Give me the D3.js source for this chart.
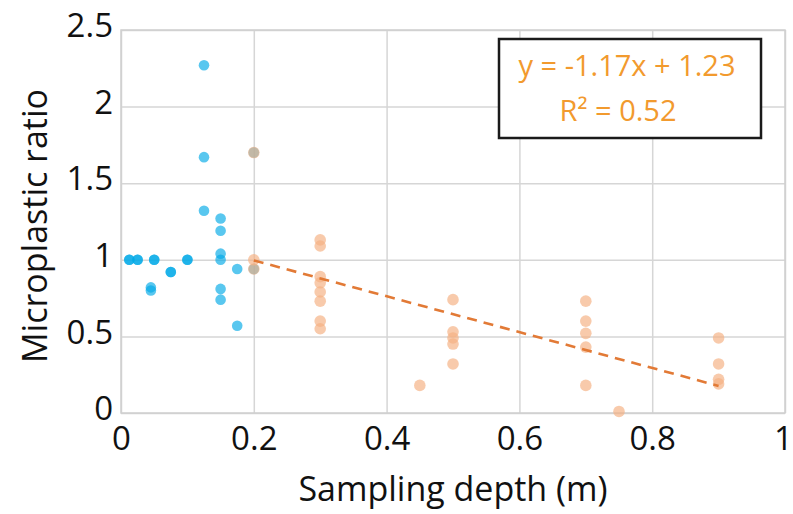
<!DOCTYPE html>
<html>
<head>
<meta charset="utf-8">
<script src="https://cdn.jsdelivr.net/npm/d3@7/dist/d3.min.js"></script>
<style>
  html, body { margin: 0; padding: 0; background: #fff; }
  svg { display: block; }
</style>
</head>
<body>
<svg id="chart" width="793" height="514"></svg>
<script>
// ---- data ----
const xTicks = [0, 0.2, 0.4, 0.6, 0.8, 1];
const yTicks = [0, 0.5, 1, 1.5, 2, 2.5];

const blueX = [0.0125, 0.0125, 0.025, 0.025, 0.05, 0.05, 0.045, 0.045, 0.075, 0.075, 0.1, 0.1,
               0.125, 0.125, 0.125, 0.15, 0.15, 0.15, 0.15, 0.15, 0.15, 0.175, 0.175, 0.2, 0.2];
const blueY = [1.0, 1.0, 1.0, 1.0, 1.0, 1.0, 0.82, 0.80, 0.92, 0.92, 1.0, 1.0,
               2.27, 1.67, 1.32, 1.27, 1.19, 1.04, 1.0, 0.81, 0.74, 0.94, 0.57, 1.7, 0.94];

const orangeX = [0.2, 0.2, 0.2,
                 0.3, 0.3, 0.3, 0.3, 0.3, 0.3, 0.3, 0.3,
                 0.45,
                 0.5, 0.5, 0.5, 0.5, 0.5,
                 0.7, 0.7, 0.7, 0.7, 0.7,
                 0.75,
                 0.9, 0.9, 0.9, 0.9];
const orangeY = [1.7, 1.0, 0.94,
                 1.13, 1.09, 0.89, 0.85, 0.79, 0.73, 0.60, 0.55,
                 0.18,
                 0.74, 0.53, 0.49, 0.45, 0.32,
                 0.73, 0.60, 0.52, 0.43, 0.18,
                 0.01,
                 0.49, 0.32, 0.22, 0.19];

const slope = -1.17, intercept = 1.23;
const trendRange = [0.2, 0.9];
const eqText = "y = -1.17x + 1.23";
const r2Text = "R² = 0.52";

// ---- layout ----
const svg = d3.select("#chart");
const L = 121, R = 785, T = 30, B = 413;
const x = d3.scaleLinear().domain([0, 1]).range([L, R]);
const y = d3.scaleLinear().domain([0, 2.5]).range([B, T]);
const font = "'Open Sans', sans-serif";
const ink = "#111";

// gridlines
svg.append("g").attr("transform", `translate(0,${B})`)
  .call(d3.axisBottom(x).tickValues(xTicks).tickSize(-(B - T)).tickFormat(""))
  .call(g => g.select(".domain").remove())
  .call(g => g.selectAll("line").attr("stroke", "#d6d6d6").attr("stroke-width", 1.5));
svg.append("g").attr("transform", `translate(${L},0)`)
  .call(d3.axisLeft(y).tickValues(yTicks).tickSize(-(R - L)).tickFormat(""))
  .call(g => g.select(".domain").remove())
  .call(g => g.selectAll("line").attr("stroke", "#d6d6d6").attr("stroke-width", 1.5));
svg.append("rect").attr("x", L).attr("y", T).attr("width", R - L).attr("height", B - T)
  .attr("fill", "none").attr("stroke", "#cfcfcf").attr("stroke-width", 1.5);

// tick labels
svg.append("g").attr("transform", `translate(0,${B})`)
  .call(d3.axisBottom(x).tickValues(xTicks).tickSize(0).tickPadding(14).tickFormat(d3.format("")))
  .call(g => g.select(".domain").remove())
  .call(g => g.selectAll("text").attr("font-family", font).attr("font-size", 33).attr("fill", ink).attr("dy", "0.71em")
    .attr("dx", d => d === 1 ? -2 : 0));
svg.append("g").attr("transform", `translate(${L},0)`)
  .call(d3.axisLeft(y).tickValues(yTicks).tickSize(0).tickPadding(8).tickFormat(d3.format("")))
  .call(g => g.select(".domain").remove())
  .call(g => g.selectAll("text").attr("font-family", font).attr("font-size", 33).attr("fill", ink).attr("dy", "0.2em"));

// axis titles
svg.append("text").attr("x", 453).attr("y", 501).attr("text-anchor", "middle")
  .attr("font-family", font).attr("font-size", 34).attr("fill", ink).text("Sampling depth (m)");
svg.append("text").attr("transform", "translate(47,226) rotate(-90)").attr("text-anchor", "middle")
  .attr("font-family", font).attr("font-size", 34).attr("fill", ink).text("Microplastic ratio");

// points
svg.append("g").selectAll("circle").data(blueX.map((d, i) => [d, blueY[i]])).join("circle")
  .attr("cx", d => x(d[0])).attr("cy", d => y(d[1])).attr("r", 5.3)
  .attr("fill", "#00A9E6").attr("fill-opacity", 0.65);
svg.append("g").selectAll("circle").data(orangeX.map((d, i) => [d, orangeY[i]])).join("circle")
  .attr("cx", d => x(d[0])).attr("cy", d => y(d[1])).attr("r", 5.8)
  .attr("fill", "#F4B183").attr("fill-opacity", 0.68);

// trendline
svg.append("line")
  .attr("x1", x(trendRange[0])).attr("y1", y(slope * trendRange[0] + intercept))
  .attr("x2", x(trendRange[1])).attr("y2", y(slope * trendRange[1] + intercept))
  .attr("stroke", "#E27A36").attr("stroke-width", 2.6).attr("stroke-dasharray", "10,7");

// equation box
svg.append("rect").attr("x", 499).attr("y", 39).attr("width", 262).attr("height", 99)
  .attr("fill", "#fff").attr("stroke", "#1a1a1a").attr("stroke-width", 2.5);
svg.append("text").attr("x", 627).attr("y", 76).attr("text-anchor", "middle")
  .attr("font-family", font).attr("font-size", 29).attr("fill", "#F29A2E").text(eqText);
svg.append("text").attr("x", 618).attr("y", 121).attr("text-anchor", "middle")
  .attr("font-family", font).attr("font-size", 29).attr("fill", "#F29A2E").text(r2Text);
</script>
</body>
</html>
